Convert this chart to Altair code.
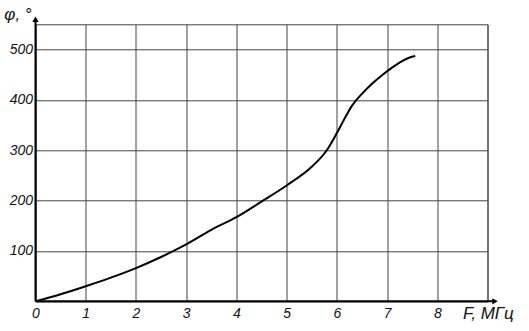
import altair as alt
import pandas as pd

# Curve data
freq = [0, 0.5, 1, 1.5, 2, 2.5, 3, 3.5, 4, 4.5, 5, 5.5, 5.8, 6, 6.15, 6.3, 6.5, 6.7, 6.9, 7.1, 7.3, 7.45, 7.56]
phase = [0, 14, 30, 47, 66, 88, 113, 142, 167, 198, 230, 267, 300, 334, 362, 388, 412, 432, 449, 464, 477, 484, 487]

x_grid = [i * 0.5 for i in range(0, 19)]
y_grid = [i * 50 for i in range(0, 12)]

df = pd.DataFrame({"F": freq, "phi": phase})

FONT = "Liberation Sans"
W, H = 452, 277

xs = alt.Scale(domain=[0, 9], nice=False, zero=False)
ys = alt.Scale(domain=[0, 550], nice=False, zero=False)

xaxis = alt.Axis(
    values=x_grid, grid=True, gridColor="#444", gridWidth=1, gridOpacity=1,
    domain=False, ticks=False,
    labelExpr="(datum.value % 1 == 0 && datum.value <= 8) ? datum.label : ''",
    labelFont=FONT, labelFontStyle="italic", labelFontSize=14, labelColor="#111",
    labelPadding=5, labelFlush=False,
    title="F, МГц", titleFont=FONT, titleFontStyle="italic", titleFontWeight="normal",
    titleFontSize=17, titleColor="#111", titleX=427, titleY=12, titleAlign="left",
    titleBaseline="middle",
)
yaxis = alt.Axis(
    values=y_grid, grid=True, gridColor="#444", gridWidth=1, gridOpacity=1,
    domain=False, ticks=False,
    labelExpr="(datum.value % 100 == 0 && datum.value > 0 && datum.value <= 500) ? datum.label : ''",
    labelFont=FONT, labelFontStyle="italic", labelFontSize=14, labelColor="#111",
    labelPadding=3, labelFlush=False,
    title="φ, °", titleFont=FONT, titleFontStyle="italic", titleFontWeight="normal",
    titleFontSize=17, titleColor="#111", titleAngle=0, titleX=-18, titleY=-10,
    titleAlign="center", titleBaseline="middle",
)

line = alt.Chart(df).mark_line(color="black", strokeWidth=2, interpolate="monotone").encode(
    x=alt.X("F:Q", scale=xs, axis=xaxis),
    y=alt.Y("phi:Q", scale=ys, axis=yaxis),
)

# Axis lines with arrows
x_axis_df = pd.DataFrame({"x": [0], "x2": [9.15], "y": [0]})
y_axis_df = pd.DataFrame({"x": [0], "y": [0], "y2": [560]})

xrule = alt.Chart(x_axis_df).mark_rule(color="black", strokeWidth=2, clip=False).encode(
    x=alt.X("x:Q", scale=xs), x2="x2:Q", y=alt.Y("y:Q", scale=ys)
)
yrule = alt.Chart(y_axis_df).mark_rule(color="black", strokeWidth=2, clip=False).encode(
    x=alt.X("x:Q", scale=xs), y=alt.Y("y:Q", scale=ys), y2="y2:Q"
)
xarrow = alt.Chart(pd.DataFrame({"x": [9.15], "y": [0]})).mark_point(
    shape="triangle-right", filled=True, color="black", size=40, opacity=1, clip=False
).encode(x=alt.X("x:Q", scale=xs), y=alt.Y("y:Q", scale=ys))
yarrow = alt.Chart(pd.DataFrame({"x": [0], "y": [560]})).mark_point(
    shape="triangle-up", filled=True, color="black", size=40, opacity=1, clip=False
).encode(x=alt.X("x:Q", scale=xs), y=alt.Y("y:Q", scale=ys))

chart = alt.layer(line, xrule, yrule, xarrow, yarrow).properties(
    width=W, height=H,
    autosize=alt.AutoSizeParams(type="none"),
    padding={"left": 35.5, "top": 24.3, "right": 41.5, "bottom": 29.7},
    background="white",
).configure_view(stroke="#444", strokeWidth=1)

chart.save("out.html", embed_options={"renderer": "svg", "actions": False})
